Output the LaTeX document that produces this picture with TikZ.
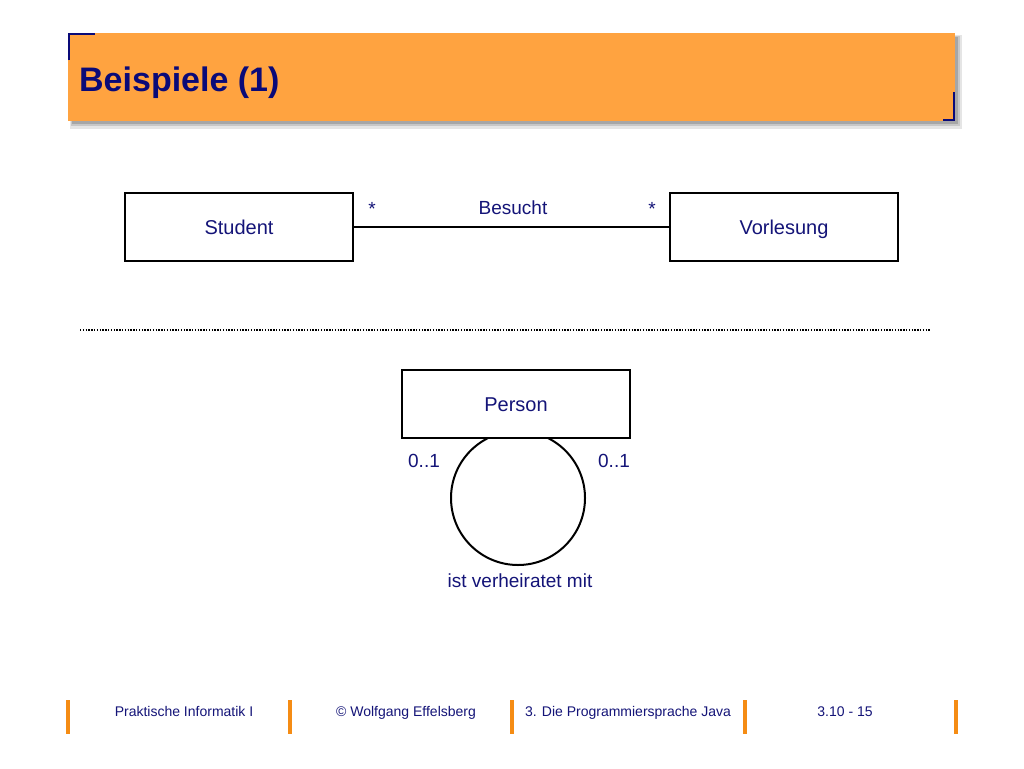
\documentclass[tikz,border=0pt]{standalone}
\usepackage{fontspec}
\setmainfont{Liberation Sans}
\begin{document}
\begin{tikzpicture}[x=1pt,y=-1pt,
  umlbox/.style={draw=black,line width=2pt,fill=white,minimum width=228pt,minimum height=68pt,inner sep=0pt,font=\fontsize{20}{24}\selectfont,text=navyc,text height=14pt,text depth=0pt},
  lbl/.style={font=\fontsize{19}{23}\selectfont,text=navyc,inner sep=0pt,text height=14pt,text depth=0pt},
  foot/.style={font=\fontsize{14}{17}\selectfont,text=navyc,inner sep=0pt,text height=10pt,text depth=0pt},
  bar/.style={draw=orangebar,line width=4pt}]
\definecolor{navyc}{RGB}{20,20,120}
\definecolor{titleorange}{RGB}{255,163,64}
\definecolor{orangebar}{RGB}{245,140,20}
\definecolor{titlenavy}{RGB}{10,10,120}
\useasboundingbox (0,0) rectangle (1024,768);
\fill[white] (0,0) rectangle (1024,768);
% title bar
\fill[black!10] (70,35) rectangle (962,129);
\fill[black!22] (71,36) rectangle (960,126);
\fill[black!35] (72,37) rectangle (958,124);
\fill[titleorange] (68,33) rectangle (955,121);
\draw[titlenavy,line width=2.5pt] (69,60) -- (69,34) -- (95,34);
\draw[titlenavy,line width=2.5pt] (954,92) -- (954,120) -- (943,120);
\node[anchor=west,inner sep=0pt,font=\fontsize{34}{40}\selectfont\bfseries,text=titlenavy,text height=24pt,text depth=0pt] (title) at (79,79) {Beispiele (1)};
% upper diagram
\node[umlbox] (student) at (239,227) {Student};
\node[umlbox] (vorl) at (784,227) {Vorlesung};
\draw[line width=2pt] (student.east) -- (vorl.west);
\node[lbl] (s1) at (372,208) {*};
\node[lbl] (bes) at (513,207) {Besucht};
\node[lbl] (s2) at (652,208) {*};
% separator
\coordinate (sepL) at (80,330);
\coordinate (sepR) at (930,330);
\draw[line width=1.8pt,dash pattern=on 1.4pt off 1.4pt] (sepL) -- (sepR);
% lower diagram
\node[draw=black,line width=2pt,circle,minimum size=134pt,inner sep=0pt] (loop) at (518,498) {};
\node[umlbox] (person) at (516,404) {Person};
\node[lbl] (m1) at (424,460) {0..1};
\node[lbl] (m2) at (614,460) {0..1};
\node[lbl] (ist) at (520,580) {ist verheiratet mit};
% footer
\foreach \xx/\nm in {68/b1,290/b2,512/b3,745/b4,956/b5}{
  \coordinate (\nm t) at (\xx,700);
  \coordinate (\nm b) at (\xx,734);
  \draw[bar] (\nm t) -- (\nm b);
}
\node[foot] (f1) at (184,711) {Praktische Informatik I};
\node[foot] (f2) at (406,711) {© Wolfgang Effelsberg};
\node[foot] (f3) at (628,711) {3. Die Programmiersprache Java};
\node[foot] (f4) at (845,711) {3.10 - 15};
\end{tikzpicture}
\end{document}
